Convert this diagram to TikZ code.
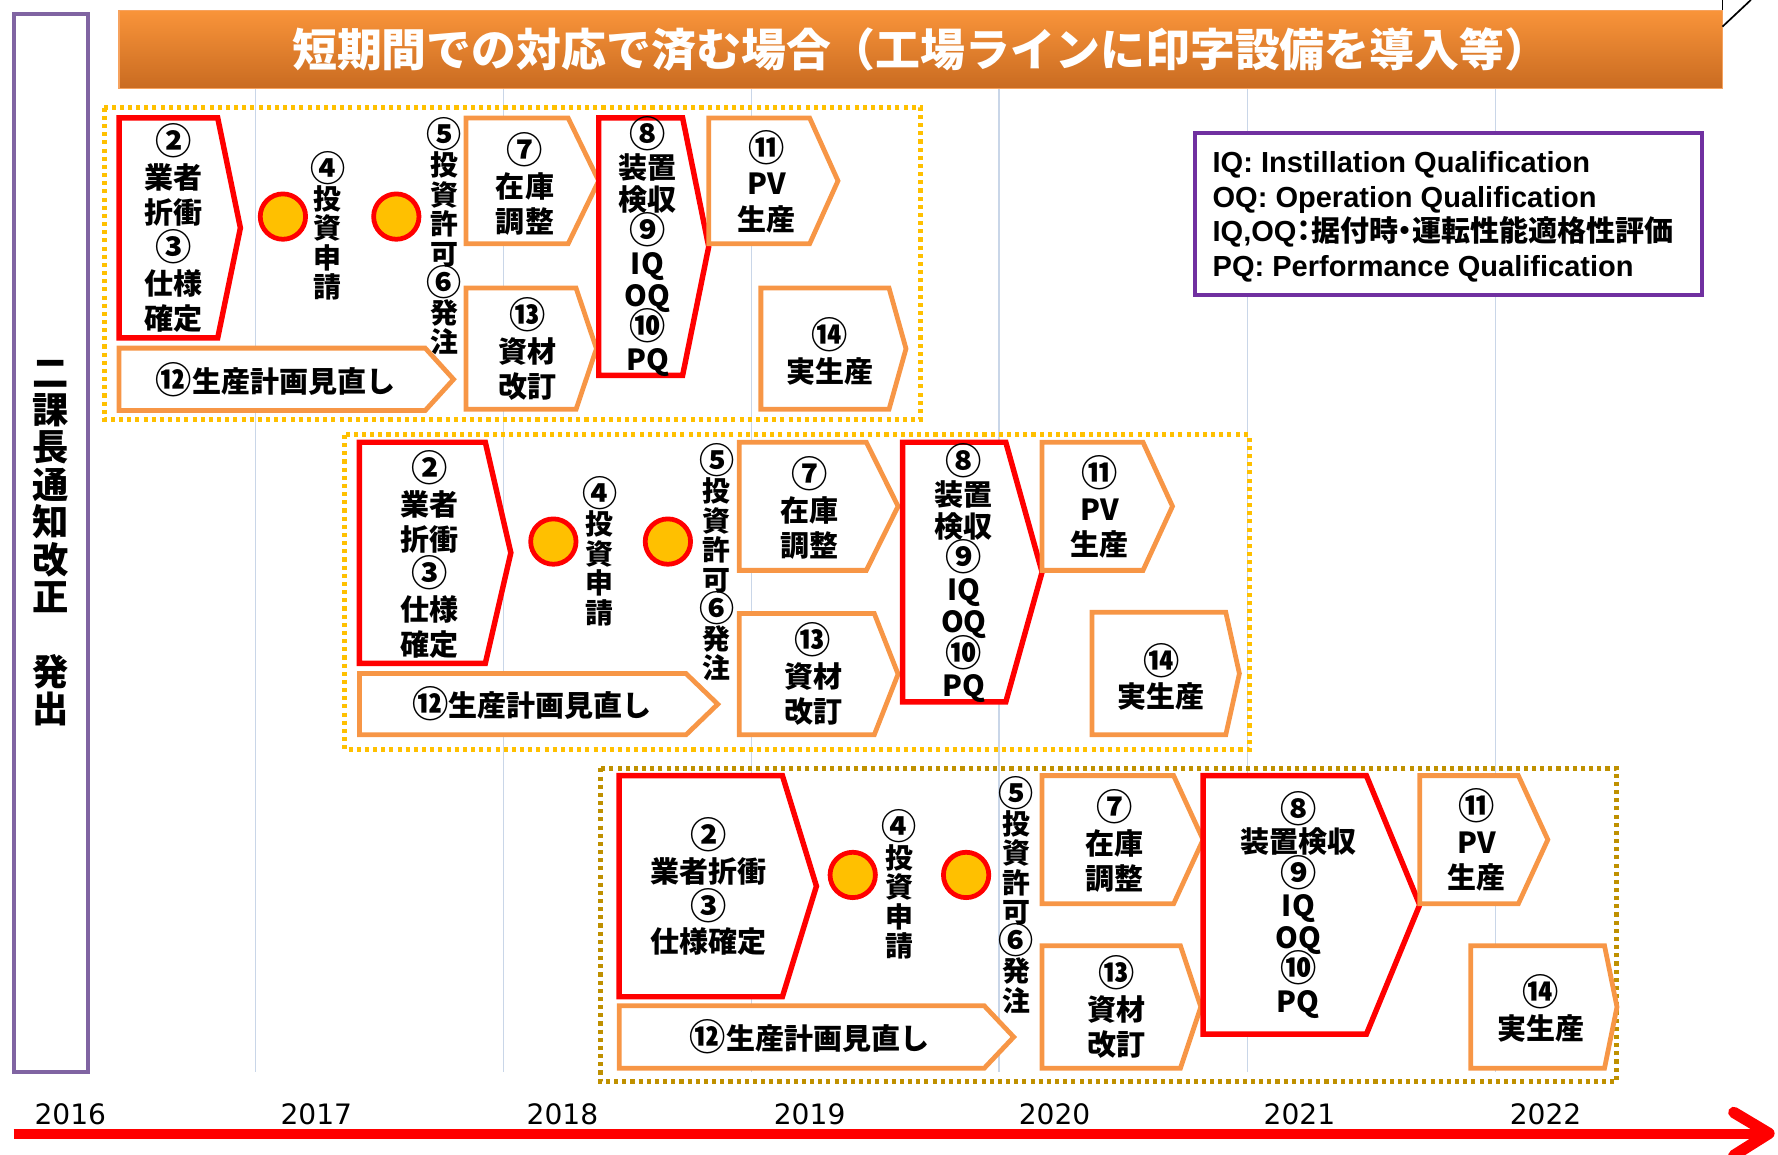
\documentclass[tikz,border=0pt]{standalone}
\usepackage{fontspec}
\setmainfont{Liberation Sans}
\newfontfamily\jp{Noto Sans CJK JP}
\newfontfamily\jpp[RawFeature=+palt]{Noto Sans CJK JP}
\newfontfamily\lsans{Liberation Sans}
\newfontfamily\dejavu{DejaVu Sans}
\definecolor{orC}{HTML}{F79646}
\definecolor{goldA}{HTML}{FFC000}
\definecolor{goldB}{HTML}{BF9000}
\definecolor{purpL}{HTML}{8064A2}
\definecolor{purpR}{HTML}{7030A0}
\definecolor{gridC}{HTML}{C9D6E8}
\definecolor{banT}{HTML}{F9943A}
\definecolor{banB}{HTML}{C96B21}
\definecolor{banE}{HTML}{F6A25E}
\newcommand\pent[6]{\draw[#1] (#2,#3) -- (#4,#3) -- (#5,{(#3+#6)/2}) -- (#4,#6) -- (#2,#6) -- cycle;}
\newcommand\cn[1]{{\fontsize{16}{13}\selectfont\raisebox{-0.6pt}{#1}}}
\newcommand\cv[1]{{\fontsize{15.5}{13}\selectfont\raisebox{-0.6pt}{#1}}}
\newcommand\nolsk{\lineskiplimit=-20pt\relax}
\tikzset{
  redbox/.style={draw=red, line width=2.4pt, fill=white, line join=miter},
  orbox/.style={draw=orC, line width=2.1pt, fill=white, line join=miter},
  bt/.style={font=\jp\bfseries\fontsize{12.8}{15.5}\selectfont\nolsk, align=center, inner sep=0pt},
  btn/.style={font=\jp\bfseries\fontsize{12.8}{14.1}\selectfont\nolsk, align=center, inner sep=0pt},
  vt/.style={font=\jp\bfseries\fontsize{12.3}{13}\selectfont\nolsk, align=center, inner sep=0pt},
  circ/.style={circle, draw=red, line width=2.1pt, fill=goldA, minimum size=20pt, inner sep=0pt},
  dotbox/.style={draw=#1, line width=2.2pt, dash pattern=on 1.8pt off 1.8pt},
  gridl/.style={draw=gridC, line width=0.5pt},
  yr/.style={font=\dejavu\fontsize{12.4}{14}\selectfont, inner sep=0pt},
  leg/.style={font=\lsans\bfseries\fontsize{12.8}{15}\selectfont, anchor=base west, inner sep=0pt},
}
\begin{document}
\begin{tikzpicture}[x=0.5pt,y=-0.5pt]
\useasboundingbox (0,0) rectangle (1568,1018);
% grid lines
\foreach \gx in {225,444,663,881,1100,1319} \draw[gridl] (\gx,78) -- (\gx,945);
% left box
\draw[draw=purpL, line width=1.8pt, fill=white] (12,12) rectangle (78,945);
\node[font=\jp\bfseries\fontsize{16}{16.5}\selectfont, align=center, inner sep=0pt] (side) at (45,479) {二\\課\\長\\通\\知\\改\\正\\　\\発\\出};
% banner
\shade[top color=banT, bottom color=banB] (105,9) rectangle (1519,78);
\draw[banE, line width=0.6pt] (105,9) rectangle (1519,78);
\node[font=\jp\bfseries\fontsize{19.8}{22}\selectfont, text=white, inner sep=0pt] (title) at (812,44) {短期間での対応で済む場合（工場ラインに印字設備を導入等）};
\draw[black, line width=0.75pt] (1519,0) -- (1519,9);
\draw[black, line width=0.75pt] (1519,23.5) -- (1544,0);
% dotted groups
\draw[dotbox=goldA] (92,95) rectangle (812,370);
\draw[dotbox=goldA] (304,383.6) rectangle (1101.6,661);
\draw[dotbox=goldB] (530,677.6) rectangle (1425.5,954);
% group 1
\pent{redbox}{105}{104}{192}{212}{298}
\node[bt] (g1a) at (153,201) {\cn{②}\\業者\\折衝\\\cn{③}\\仕様\\確定};
\node[circ] (g1c1) at (249.5,191) {};
\node[circ] (g1c2) at (349.5,191) {};
\node[vt] (g1v1) at (289,199) {\cv{④}\\投\\資\\申\\請};
\node[vt] (g1v2) at (392,208.5) {\cv{⑤}\\投\\資\\許\\可\\\cv{⑥}\\発\\注};
\pent{orbox}{411}{104}{501}{528}{215}
\node[bt] (g1b) at (463,162) {\cn{⑦}\\在庫\\調整};
\pent{orbox}{411}{254}{508}{526}{361}
\node[bt] (g1c) at (465,308) {\cn{⑬}\\資材\\改訂};
\pent{redbox}{528}{104}{602}{625}{331}
\node[btn] (g1d) at (571,217.5) {\cn{⑧}\\装置\\検収\\\cn{⑨}\\IQ\\OQ\\\cn{⑩}\\PQ};
\pent{orbox}{625}{104}{714}{739}{215}
\node[bt] (g1e) at (676,160) {\cn{⑪}\\PV\\生産};
\pent{orbox}{671}{254}{784}{799}{361}
\node[bt] (g1f) at (732,310) {\cn{⑭}\\実生産};
\pent{orbox}{105}{307}{375}{400}{362}
\node[bt] (g1g) at (243,335) {\cn{⑫}生産計画見直し};
% group 2
\pent{redbox}{317}{390}{428}{450.5}{585}
\node[bt] (g2a) at (379,489) {\cn{②}\\業者\\折衝\\\cn{③}\\仕様\\確定};
\node[circ] (g2c1) at (488,477.6) {};
\node[circ] (g2c2) at (589,477.6) {};
\node[vt] (g2v1) at (529,486) {\cv{④}\\投\\資\\申\\請};
\node[vt] (g2v2) at (632,496) {\cv{⑤}\\投\\資\\許\\可\\\cv{⑥}\\発\\注};
\pent{orbox}{652}{390}{764}{792}{503}
\node[bt] (g2b) at (714,448) {\cn{⑦}\\在庫\\調整};
\pent{orbox}{652}{541}{771}{792}{648}
\node[bt] (g2c) at (717,594.5) {\cn{⑬}\\資材\\改訂};
\pent{redbox}{796}{390}{887}{919}{619}
\node[btn] (g2d) at (850,505.5) {\cn{⑧}\\装置\\検収\\\cn{⑨}\\IQ\\OQ\\\cn{⑩}\\PQ};
\pent{orbox}{919}{390}{1008}{1034}{503}
\node[bt] (g2e) at (970,447) {\cn{⑪}\\PV\\生産};
\pent{orbox}{963}{540}{1081}{1093}{648}
\node[bt] (g2f) at (1024,597) {\cn{⑭}\\実生産};
\pent{orbox}{317}{594}{605}{633}{648}
\node[bt] (g2g) at (469,621) {\cn{⑫}生産計画見直し};
% group 3
\pent{redbox}{546}{684}{690}{720}{879}
\node[bt] (g3a) at (625,782) {\cn{②}\\業者折衝\\\cn{③}\\仕様確定};
\node[circ] (g3c1) at (752,771.6) {};
\node[circ] (g3c2) at (852,771.6) {};
\node[vt] (g3v1) at (793,780) {\cv{④}\\投\\資\\申\\請};
\node[vt] (g3v2) at (896,789) {\cv{⑤}\\投\\資\\許\\可\\\cv{⑥}\\発\\注};
\pent{orbox}{919}{684}{1035}{1061}{797}
\node[bt] (g3b) at (983,742) {\cn{⑦}\\在庫\\調整};
\pent{orbox}{919}{834}{1041}{1059}{942}
\node[bt] (g3c) at (985,888) {\cn{⑬}\\資材\\改訂};
\pent{redbox}{1061}{684}{1205}{1252}{912}
\node[btn] (g3d) at (1145,798) {\cn{⑧}\\装置検収\\\cn{⑨}\\IQ\\OQ\\\cn{⑩}\\PQ};
\pent{orbox}{1252}{684}{1339}{1365}{797}
\node[bt] (g3e) at (1302,741) {\cn{⑪}\\PV\\生産};
\pent{orbox}{1297}{834}{1415}{1426}{942}
\node[bt] (g3f) at (1359,889) {\cn{⑭}\\実生産};
\pent{orbox}{546}{887}{868}{894}{942}
\node[bt] (g3g) at (714,914.5) {\cn{⑫}生産計画見直し};
% legend
\draw[draw=purpR, line width=1.8pt, fill=white] (1054,117) rectangle (1501,260);
\node[leg] (l1) at (1069,152) {IQ: Instillation Qualification};
\node[leg] (l2) at (1069,183) {OQ: Operation Qualification};
\node[leg] (l3) at (1069,213) {IQ,OQ{\jpp\bfseries ：据付時・運転性能適格性評価}};
\node[leg] (l4) at (1069,244) {PQ: Performance Qualification};
% years
\node[yr] (y16) at (62,983) {2016};
\node[yr] (y17) at (279,983) {2017};
\node[yr] (y18) at (496,983) {2018};
\node[yr] (y19) at (714,983) {2019};
\node[yr] (y20) at (930,983) {2020};
\node[yr] (y21) at (1146,983) {2021};
\node[yr] (y22) at (1363,983) {2022};
% timeline
\coordinate (tl0) at (12,1000);
\coordinate (tl1) at (1556,1000);
\draw[red, line width=4.6pt] (tl0) -- (tl1);
\draw[red, line width=5pt, line cap=round, line join=round] (1529,981) -- (1560,999.5) -- (1529,1019);
\end{tikzpicture}
\end{document}
